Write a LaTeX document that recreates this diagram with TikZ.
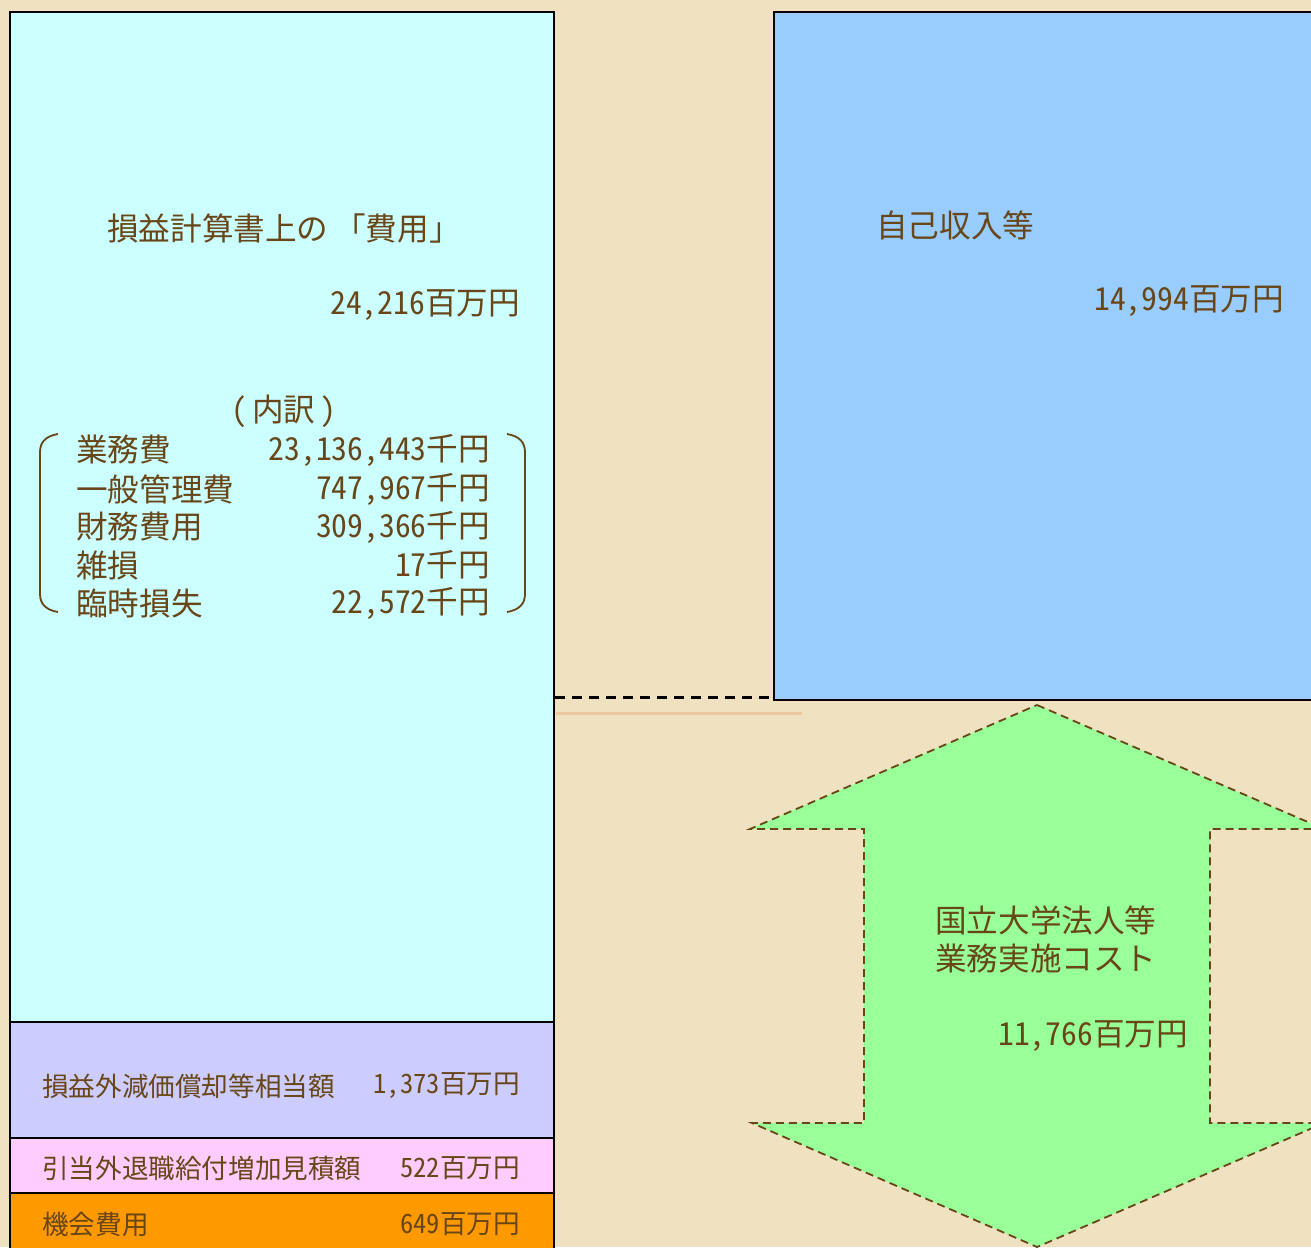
\documentclass[tikz,border=0pt]{standalone}
\usepackage{fontspec}
\setmainfont{Noto Sans CJK JP}[RawFeature=+hwid]
\definecolor{bg}{RGB}{240,226,192}
\definecolor{txt}{RGB}{104,70,24}
\definecolor{cyanbox}{RGB}{204,255,255}
\definecolor{bluebox}{RGB}{153,204,255}
\definecolor{lavbox}{RGB}{204,204,255}
\definecolor{pinkbox}{RGB}{255,204,255}
\definecolor{orangebox}{RGB}{255,153,0}
\definecolor{greenarrow}{RGB}{153,255,153}
\definecolor{tanline}{RGB}{235,200,160}
\tikzset{
  boxstyle/.style={draw=black, line width=2pt},
  lbl/.style={text=txt, inner sep=0pt, font=\fontsize{31.6}{36}\selectfont},
  slbl/.style={text=txt, inner sep=0pt, font=\fontsize{26.6}{30}\selectfont},
}
\begin{document}
\begin{tikzpicture}[x=1pt,y=-1pt]
\useasboundingbox (0,0) rectangle (1311,1247);
\fill[bg] (0,0) rectangle (1311,1247);
% left boxes
\path[boxstyle, fill=cyanbox] (10,12) rectangle (554,1022);
\path[boxstyle, fill=lavbox] (10,1022) rectangle (554,1138);
\path[boxstyle, fill=pinkbox] (10,1138) rectangle (554,1193);
\path[boxstyle, fill=orangebox] (10,1193) rectangle (554,1260);
% right blue box
\path[boxstyle, fill=bluebox] (774,12) rectangle (1320,700);
% dashed and tan lines
\coordinate (dl) at (555,697);
\coordinate (dr) at (773,697);
\draw[black, line width=3pt, dash pattern=on 10pt off 7pt] (dl) -- (dr);
\coordinate (tl) at (556,713);
\coordinate (tr) at (802,713);
\draw[tanline, line width=3pt] (tl) -- (tr);
% green double arrow
\draw[fill=greenarrow, draw=txt, line width=1.8pt, dash pattern=on 8pt off 5pt]
  (1037,705) -- (1324,829) -- (1210,829) -- (1210,1123) -- (1324,1123) -- (1037,1247)
  -- (752,1123) -- (864,1123) -- (864,829) -- (750,829) -- cycle;
% texts left
\node[lbl, anchor=west] (costtitle) at (107,228) {損益計算書上の\hspace{6pt}「費用」};
\node[lbl, anchor=east] (costval) at (520,305) {24,216百万円};
\node[lbl] (uchiwake) at (284,411) {(\hspace{5pt}内訳\hspace{5pt})};
\node[lbl, anchor=west] (r1l) at (76,450) {業務費};
\node[lbl, anchor=east] (r1v) at (490,450) {23,136,443千円};
\node[lbl, anchor=west] (r2l) at (76,489) {一般管理費};
\node[lbl, anchor=east] (r2v) at (490,489) {747,967千円};
\node[lbl, anchor=west] (r3l) at (76,527) {財務費用};
\node[lbl, anchor=east] (r3v) at (490,527) {309,366千円};
\node[lbl, anchor=west] (r4l) at (76,565) {雑損};
\node[lbl, anchor=east] (r4v) at (490,565) {17千円};
\node[lbl, anchor=west] (r5l) at (76,603) {臨時損失};
\node[lbl, anchor=east] (r5v) at (490,603) {22,572千円};
% brackets
\draw[txt, line width=1.8pt] (58,434) .. controls (46,436) and (40,442) .. (40,452) -- (40,594) .. controls (40,604) and (46,610) .. (58,612);
\draw[txt, line width=1.8pt] (507,434) .. controls (519,436) and (525,442) .. (525,452) -- (525,594) .. controls (525,604) and (519,610) .. (507,612);
% right texts
\node[lbl, anchor=west] (inctitle) at (876,225) {自己収入等};
\node[lbl, anchor=east] (incval) at (1284,301) {14,994百万円};
\node[lbl, anchor=west] (ncost1) at (935,920) {国立大学法人等};
\node[lbl, anchor=west] (ncost2) at (935,958) {業務実施コスト};
\node[lbl, anchor=east] (ncostval) at (1188,1036) {11,766百万円};
% bottom texts
\node[slbl, anchor=west] (b1l) at (42,1086) {損益外減価償却等相当額};
\node[slbl, anchor=east] (b1v) at (520,1086) {1,373百万円};
\node[slbl, anchor=west] (b2l) at (42,1168) {引当外退職給付増加見積額};
\node[slbl, anchor=east] (b2v) at (520,1168) {522百万円};
\node[slbl, anchor=west] (b3l) at (42,1224) {機会費用};
\node[slbl, anchor=east] (b3v) at (520,1224) {649百万円};
\end{tikzpicture}
\end{document}
